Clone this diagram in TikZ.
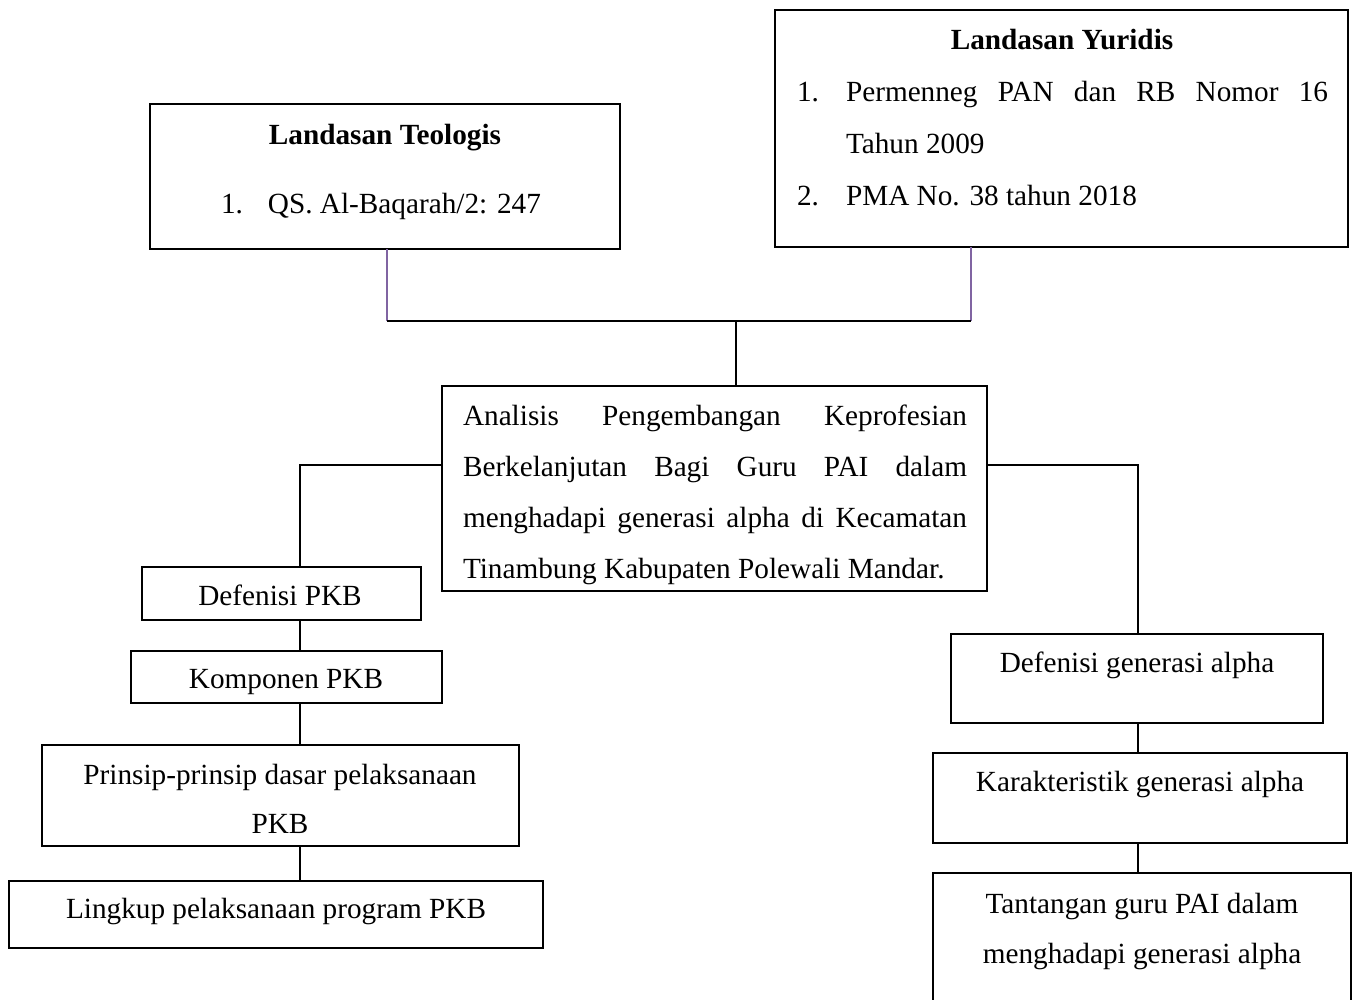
\documentclass[tikz,border=0pt]{standalone}
\usepackage{fontspec}
\setmainfont{Liberation Serif}
\definecolor{linkpurple}{RGB}{128,100,162}

\begin{document}
\begin{tikzpicture}[x = 0.4pt, y = -0.4pt,
    every node/.style = {font = \fontsize{11.7}{20.4}\selectfont, inner sep = 0pt, outer sep = 0pt},
    frame/.style = {draw, line width = 0.8pt, anchor = north west},
    link/.style = {draw, line width = 0.8pt},
    purple link/.style = {draw = linkpurple, line width = 0.6pt}]
    \useasboundingbox (0,0) rectangle (1357,999);
    % frames, top left corner at pixel positions
    \node[frame, minimum width = 188pt, minimum height = 58pt] (teo) at (150,104) {};
    \node[frame, minimum width = 229.2pt, minimum height = 94.8pt] (yur) at (775,10) {};
    \node[frame, minimum width = 218pt, minimum height = 82pt] (ana) at (442,386) {};
    \node[frame, minimum width = 111.6pt, minimum height = 21.2pt] (defpkb) at (142,567) {};
    \node[frame, minimum width = 124.4pt, minimum height = 20.8pt] (kompkb) at (131,651) {};
    \node[frame, minimum width = 190.8pt, minimum height = 40.4pt] (prinsip) at (42,745) {};
    \node[frame, minimum width = 213.6pt, minimum height = 26.8pt] (lingkup) at (9,881) {};
    \node[frame, minimum width = 148.8pt, minimum height = 35.6pt] (defgen) at (951,634) {};
    \node[frame, minimum width = 165.6pt, minimum height = 36pt] (karakter) at (933,753) {};
    \node[frame, minimum width = 167.2pt, minimum height = 56pt] (tantangan) at (933,873) {};
    % texts
    \node[anchor = base] (teoT) at (385,144) {\textbf{Landasan Teologis}};
    \node[anchor = base west] (teoA) at (221,213) {\makebox[18.8pt][l]{1.}QS. Al-Baqarah/2: 247};
    \node[anchor = base] (yurT) at (1062,50) {\textbf{Landasan Yuridis}};
    \node[anchor = base west] (yurA) at (797,102) {\makebox[19.6pt][l]{1.}\hbox to 192.8pt{Permenneg PAN dan RB Nomor 16}};
    \node[anchor = base west] (yurB) at (846,153) {Tahun 2009};
    \node[anchor = base west] (yurC) at (797,205) {\makebox[19.6pt][l]{2.}PMA No. 38 tahun 2018};
    \node[anchor = base west] (anaA) at (463,425) {\hbox to 201.6pt{Analisis Pengembangan Keprofesian}};
    \node[anchor = base west] (anaB) at (463,476) {\hbox to 201.6pt{Berkelanjutan Bagi Guru PAI dalam}};
    \node[anchor = base west] (anaC) at (463,527) {\hbox to 201.6pt{menghadapi generasi alpha di Kecamatan}};
    \node[anchor = base west] (anaD) at (463,578) {Tinambung Kabupaten Polewali Mandar.};
    \node[anchor = base] (defpkbT) at (280,605) {Defenisi PKB};
    \node[anchor = base] (kompkbT) at (286,688) {Komponen PKB};
    \node[anchor = base] (prinsipA) at (280,784) {Prinsip-prinsip dasar pelaksanaan};
    \node[anchor = base] (prinsipB) at (280,833) {PKB};
    \node[anchor = base] (lingkupT) at (276,918) {Lingkup pelaksanaan program PKB};
    \node[anchor = base] (defgenT) at (1137,672) {Defenisi generasi alpha};
    \node[anchor = base] (karakterT) at (1140,791) {Karakteristik generasi alpha};
    \node[anchor = base] (tantanganA) at (1142,913) {Tantangan guru PAI dalam};
    \node[anchor = base] (tantanganB) at (1142,963) {menghadapi generasi alpha};
    % connectors
    \coordinate (teojoin) at (387,321);
    \coordinate (yurjoin) at (971,321);
    \coordinate (anajoin) at (736,321);
    \coordinate (lefttee) at (300,465);
    \coordinate (righttee) at (1138,465);
    \draw[purple link] (teojoin |- teo.south) -- (teojoin);
    \draw[purple link] (yurjoin |- yur.south) -- (yurjoin);
    \draw[link] (teojoin) -- (yurjoin);
    \draw[link] (anajoin) -- (anajoin |- ana.north);
    \draw[link] (lefttee -| ana.west) -- (lefttee) -- (lefttee |- defpkb.north);
    \draw[link] (lefttee |- defpkb.south) -- (lefttee |- kompkb.north);
    \draw[link] (lefttee |- kompkb.south) -- (lefttee |- prinsip.north);
    \draw[link] (lefttee |- prinsip.south) -- (lefttee |- lingkup.north);
    \draw[link] (righttee -| ana.east) -- (righttee) -- (righttee |- defgen.north);
    \draw[link] (righttee |- defgen.south) -- (righttee |- karakter.north);
    \draw[link] (righttee |- karakter.south) -- (righttee |- tantangan.north);
\end{tikzpicture}
\end{document}
